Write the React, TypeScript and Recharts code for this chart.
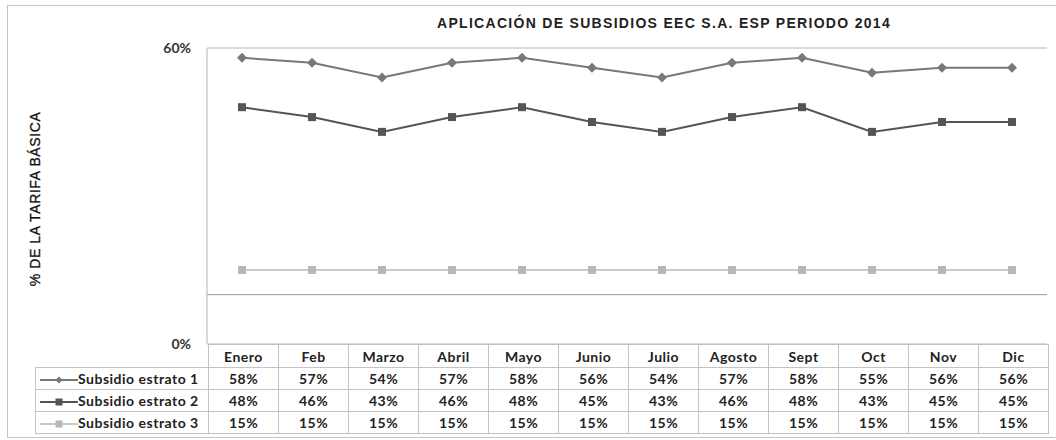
import React from 'react';
import { LineChart, Line, XAxis, YAxis, CartesianGrid, ReferenceLine } from 'recharts';

const months = ['Enero', 'Feb', 'Marzo', 'Abril', 'Mayo', 'Junio', 'Julio', 'Agosto', 'Sept', 'Oct', 'Nov', 'Dic'];
const estrato1 = [58, 57, 54, 57, 58, 56, 54, 57, 58, 55, 56, 56];
const estrato2 = [48, 46, 43, 46, 48, 45, 43, 46, 48, 43, 45, 45];
const estrato3 = [15, 15, 15, 15, 15, 15, 15, 15, 15, 15, 15, 15];
const yTicks = [0, 60];

const SERIES = [
  { key: 'e1', name: 'Subsidio estrato 1', values: estrato1, color: '#787878', shape: 'diamond', width: 2 },
  { key: 'e2', name: 'Subsidio estrato 2', values: estrato2, color: '#555555', shape: 'square', width: 2 },
  { key: 'e3', name: 'Subsidio estrato 3', values: estrato3, color: '#b8b8b8', shape: 'square', width: 1.5 },
];

const data = months.map((m, i) => ({ month: m, e1: estrato1[i], e2: estrato2[i], e3: estrato3[i] }));

const TABLE_FONT = 'Lato, "Open Sans", sans-serif';
const BORDER = '1px solid #c4c4c4';

function Marker({ cx, cy, shape, color }: { cx: number; cy: number; shape: string; color: string }) {
  if (shape === 'diamond') {
    return <polygon points={`${cx},${cy - 5} ${cx + 5},${cy} ${cx},${cy + 5} ${cx - 5},${cy}`} fill={color} />;
  }
  return <rect x={cx - 4} y={cy - 4} width={8} height={8} fill={color} />;
}

function LegendKey({ shape, color, width }: { shape: string; color: string; width: number }) {
  return (
    <svg width={38} height={10} style={{ verticalAlign: 'middle', marginRight: 0 }}>
      <line x1={0} y1={5} x2={38} y2={5} stroke={color} strokeWidth={width} />
      {shape === 'diamond' ? (
        <polygon points="19,1.5 22.5,5 19,8.5 15.5,5" fill={color} />
      ) : (
        <rect x={15.5} y={1.5} width={7} height={7} fill={color} />
      )}
    </svg>
  );
}

export default function App() {
  return (
    <div style={{ position: 'absolute', left: 0, top: 0, width: 1056, height: 440, background: '#fff' }}>
      <div
        style={{
          position: 'absolute',
          left: 7,
          top: 5,
          width: 1060,
          height: 431,
          borderTop: BORDER,
          borderLeft: BORDER,
          borderBottom: BORDER,
        }}
      />
      <div
        style={{
          position: 'absolute',
          left: 264,
          width: 800,
          top: 15,
          textAlign: 'center',
          fontFamily: '"Liberation Sans", Arial, sans-serif',
          fontWeight: 'bold',
          fontSize: 14,
          letterSpacing: 1.3,
          color: '#222',
        }}
      >
        APLICACIÓN DE SUBSIDIOS EEC S.A. ESP PERIODO 2014
      </div>
      <div style={{ position: 'absolute', left: 0, top: 0 }}>
        <LineChart width={1056} height={440} data={data} margin={{ top: 48, right: 9, bottom: 96, left: 0 }}>
          <CartesianGrid vertical={false} stroke="#b5b5b5" />
          <XAxis dataKey="month" hide padding={{ left: 35, right: 35 }} />
          <YAxis
            width={207}
            domain={[0, 60]}
            ticks={yTicks}
            tickFormatter={(v: number) => `${v}%`}
            tickSize={0}
            tickMargin={16}
            axisLine={{ stroke: '#b5b5b5' }}
            tick={{ fontFamily: TABLE_FONT, fontWeight: 'bold', fontSize: 14, fill: '#333' }}
            label={() => (
              <text
                x={40}
                y={199}
                transform="rotate(-90 40 199)"
                textAnchor="middle"
                style={{ fontFamily: '"Liberation Sans", Arial, sans-serif', fontSize: 14, letterSpacing: 0.6 }}
                fill="#111"
                stroke="#111"
                strokeWidth={0.3}
              >
                % DE LA TARIFA BÁSICA
              </text>
            )}
          />
          <ReferenceLine y={10} stroke="#9a9a9a" />
          {SERIES.map((s) => (
            <Line
              key={s.key}
              dataKey={s.key}
              name={s.name}
              stroke={s.color}
              strokeWidth={s.width}
              isAnimationActive={false}
              dot={(p: any) => <Marker key={`${s.key}-${p.index}`} cx={p.cx} cy={p.cy} shape={s.shape} color={s.color} />}
              activeDot={false}
            />
          ))}
        </LineChart>
      </div>
      <table
        style={{
          position: 'absolute',
          left: 35,
          top: 344,
          borderCollapse: 'collapse',
          tableLayout: 'fixed',
          width: 1013,
          fontFamily: TABLE_FONT,
          fontWeight: 'bold',
          fontSize: 14,
          letterSpacing: 0.5,
          color: '#222',
        }}
      >
        <colgroup>
          <col style={{ width: 173 }} />
          {months.map((m) => (
            <col key={m} style={{ width: 70 }} />
          ))}
        </colgroup>
        <tbody>
          <tr style={{ height: 23 }}>
            <td style={{ padding: 0 }} />
            {months.map((m) => (
              <td key={m} style={{ border: BORDER, textAlign: 'center', padding: 0 }}>
                {m}
              </td>
            ))}
          </tr>
          {SERIES.map((s) => (
            <tr key={s.key} style={{ height: 22 }}>
              <td style={{ border: BORDER, padding: '0 0 0 4px', whiteSpace: 'nowrap' }}>
                <LegendKey shape={s.shape} color={s.color} width={s.width} />
                {s.name}
              </td>
              {s.values.map((v, i) => (
                <td key={i} style={{ border: BORDER, textAlign: 'center', padding: 0 }}>
                  {v}%
                </td>
              ))}
            </tr>
          ))}
        </tbody>
      </table>
    </div>
  );
}
